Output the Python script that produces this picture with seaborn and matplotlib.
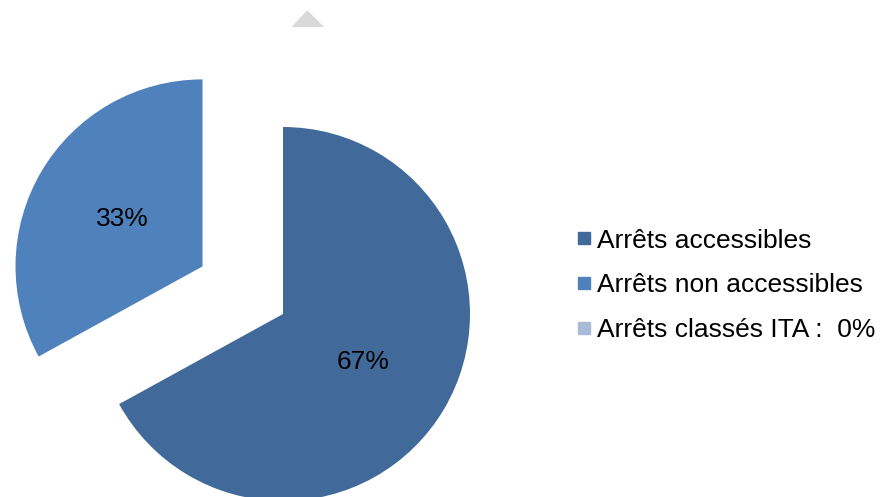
import matplotlib
matplotlib.use("Agg")
import matplotlib.pyplot as plt
from matplotlib.lines import Line2D
from matplotlib.patches import Polygon
import seaborn as sns

# Share of stops by accessibility status (percent)
categories = ["Arrêts accessibles", "Arrêts non accessibles", "Arrêts classés ITA :  0%"]
shares = [67, 33, 0]
explode = [0.0, 0.5, 0.0]
colors = ["#41699A", "#4F81BD", "#A9BAD6"]

sns.set_theme(style="white")
plt.rcParams["font.family"] = ["Liberation Sans", "DejaVu Sans"]
plt.rcParams["text.color"] = "black"

fig = plt.figure(figsize=(8.88, 4.97), dpi=100)
ax = fig.add_axes([0, 0, 1, 1])

wedges, _, autotexts = ax.pie(
    shares,
    explode=explode,
    colors=colors,
    startangle=90,
    counterclock=False,
    radius=1.0,
    autopct=lambda p: f"{p:.0f}%" if p > 0 else "",
    pctdistance=0.5,
    labels=None,
    wedgeprops=dict(linewidth=0),
    textprops=dict(fontsize=19, color="black"),
)

# small grey marker above the pie for the empty ITA slice
ax.add_patch(Polygon([(0.045, 1.535), (0.220, 1.535), (0.130, 1.625)],
                     closed=True, facecolor="#D9D9D9", edgecolor="none"))

# scale: 187 px per radius, pie centre at (283, 314) px from top-left
r_px = 187.0
ax.set_xlim(-283 / r_px, (888 - 283) / r_px)
ax.set_ylim(-(497 - 314) / r_px, 314 / r_px)
ax.set_aspect("auto")
ax.axis("off")

handles = [Line2D([0], [0], marker="s", linestyle="none", markersize=8.5,
                  markerfacecolor=c, markeredgecolor=c) for c in colors]
ax.legend(handles, categories, loc="center left", bbox_to_anchor=(0.637, 0.426),
          frameon=False, fontsize=19, handlelength=0.6, handletextpad=0.2,
          labelspacing=0.78, borderaxespad=0, labelcolor="black")

fig.savefig("out.png", dpi=100)
